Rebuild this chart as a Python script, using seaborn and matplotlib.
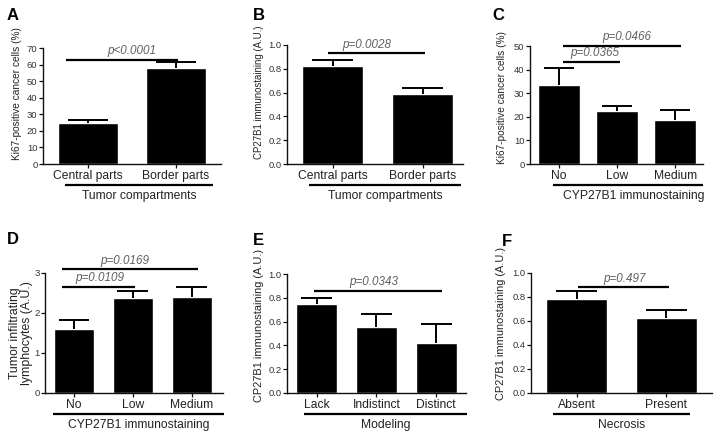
import numpy as np
import pandas as pd
import matplotlib
matplotlib.use("Agg")
import matplotlib.pyplot as plt
import matplotlib.transforms as mtrans
import seaborn as sns

# ---------------- data ----------------
a_cats = ["Central parts", "Border parts"]
a_vals = [24.5, 58.0]
a_err = [2.0, 3.4]

b_cats = ["Central parts", "Border parts"]
b_vals = [0.82, 0.59]
b_err = [0.05, 0.05]

c_cats = ["No", "Low", "Medium"]
c_vals = [33.4, 22.3, 18.6]
c_err = [7.1, 2.1, 4.2]

d_cats = ["No", "Low", "Medium"]
d_vals = [1.60, 2.37, 2.41]
d_err = [0.23, 0.19, 0.23]

e_cats = ["Lack", "Indistinct", "Distinct"]
e_vals = [0.745, 0.555, 0.42]
e_err = [0.052, 0.108, 0.16]

f_cats = ["Absent", "Present"]
f_vals = [0.78, 0.625]
f_err = [0.07, 0.063]

# significance annotations: (x_start, x_end, y, text, text_x)
a_sig = [(-0.25, 1.02, 62.8, "p<0.0001", 0.5)]
b_sig = [(-0.05, 1.03, 0.93, "p=0.0028", 0.38)]
c_sig = [(0.07, 2.10, 50.1, "p=0.0466", 1.16), (0.07, 1.05, 43.4, "p=0.0365", 0.62)]
d_sig = [(-0.20, 2.10, 3.09, "p=0.0169", 0.86), (-0.20, 1.03, 2.66, "p=0.0109", 0.44)]
e_sig = [(-0.05, 2.10, 0.86, "p=0.0343", 0.96)]
f_sig = [(0.01, 1.03, 0.88, "p=0.497", 0.53)]

group_labels = ["Tumor compartments", "Tumor compartments", "CYP27B1 immunostaining",
                "CYP27B1 immunostaining", "Modeling", "Necrosis"]
y_labels = ["Ki67-positive cancer cells (%)", "CP27B1 immunostaining (A.U.)",
            "Ki67-positive cancer cells (%)", "Tumor infiltrating\nlymphocytes (A.U.)",
            "CP27B1 immunostaining (A.U.)", "CP27B1 immunostaining (A.U.)"]
panel_letters = ["A", "B", "C", "D", "E", "F"]
y_max = [70, 1.0, 50, 3, 1.0, 1.0]
y_step = [10, 0.2, 10, 1, 0.2, 0.2]
y_fmt = ["{:.0f}", "{:.1f}", "{:.0f}", "{:.0f}", "{:.1f}", "{:.1f}"]

# ---------------- layout (pixels) ----------------
W, H = 721, 437
sns.set_style("ticks")
plt.rcParams["font.family"] = ["Liberation Sans", "DejaVu Sans"]

fig = plt.figure(figsize=(W / 100, H / 100), dpi=100)

# left, right, top, bottom in px
boxes = [(43, 221, 48, 164), (287, 463, 45, 164), (530, 703, 46, 164),
         (45, 223, 273, 393), (287, 466, 274, 393), (531, 712, 273, 393)]
xlims = [(-0.511, 1.511), (-0.506, 1.45), (-0.5, 2.48),
         (-0.49, 2.53), (-0.5, 2.5), (-0.51, 1.51)]
widths = [0.69, 0.68, 0.72, 0.67, 0.69, 0.68]
cap_hw = [0.23, 0.23, 0.26, 0.26, 0.26, 0.23]
underline = [(-0.26, 1.42), (-0.26, 1.43), (-0.10, 2.48),
             (-0.36, 2.54), (-0.22, 2.52), (-0.26, 1.27)]
group_x = [0.58, 0.585, 1.29, 1.1, 1.15, 0.5]
ylab_dx = [26, 28.5, 28, 24, 28, 30]
ylab_dy = [12, 12, 7.5, 0, 8.5, 9.5]
ylab_fs = [7.3, 6.9, 7.3, 8.8, 7.9, 7.9]
letter_pos = [(7, 8), (253, 8), (492, 8), (7, 232), (253, 233), (502, 234)]

panels = [(a_cats, a_vals, a_err, a_sig), (b_cats, b_vals, b_err, b_sig),
          (c_cats, c_vals, c_err, c_sig), (d_cats, d_vals, d_err, d_sig),
          (e_cats, e_vals, e_err, e_sig), (f_cats, f_vals, f_err, f_sig)]

txt_col = "#222222"
p_col = "#606060"

for i, (cats, vals, errs, sigs) in enumerate(panels):
    l, r, t, b = boxes[i]
    ax = fig.add_axes([l / W, (H - b) / H, (r - l) / W, (b - t) / H])
    df = pd.DataFrame({"cat": cats, "val": vals})
    sns.barplot(data=df, x="cat", y="val", color="black", saturation=1,
                width=widths[i], errorbar=None, ax=ax, order=cats)
    xs = np.arange(len(cats))
    tops = np.array(vals) + np.array(errs)
    ax.vlines(xs, vals, tops, colors="black", lw=1.4, zorder=3)
    ax.hlines(tops, xs - cap_hw[i], xs + cap_hw[i], colors="black", lw=1.4, zorder=3)
    ax.set_xlim(*xlims[i])
    ax.set_ylim(0, y_max[i])
    ticks = np.arange(0, y_max[i] + 1e-9, y_step[i])
    ax.set_yticks(ticks)
    ax.set_yticklabels([y_fmt[i].format(v) for v in ticks])
    sns.despine(ax=ax)
    for s in ["left", "bottom"]:
        ax.spines[s].set_linewidth(1.0)
        ax.spines[s].set_color("#111111")
    ax.tick_params(axis="y", length=3, width=0.9, pad=1, labelsize=6.8,
                   labelcolor="#333333", color="#111111")
    ax.tick_params(axis="x", length=3, width=0.9, pad=1.2, labelsize=8.7,
                   labelcolor=txt_col, color="#111111")
    ax.set_xlabel("")
    ax.set_ylabel(y_labels[i], fontsize=ylab_fs[i], color=txt_col, va="center",
                  linespacing=0.95)
    aw = r - l
    ah = b - t
    ax.yaxis.set_label_coords(-ylab_dx[i] / aw, 0.5 + ylab_dy[i] / ah)

    # significance lines
    for (x0, x1, yv, txt, tx) in sigs:
        ax.plot([x0, x1], [yv, yv], color="black", lw=1.6, clip_on=False,
                solid_capstyle="butt", zorder=4)
        ax.annotate(txt, (tx, yv), xytext=(0, 1.8), textcoords="offset points",
                    ha="center", va="bottom", fontsize=8.4, style="italic",
                    color=p_col, annotation_clip=False)

    # group underline and label
    tr_line = ax.get_xaxis_transform() + mtrans.ScaledTranslation(0, -21 / 100, fig.dpi_scale_trans)
    ax.plot(list(underline[i]), [0, 0], color="black", lw=1.6, transform=tr_line,
            clip_on=False, solid_capstyle="butt")
    tr_lab = ax.get_xaxis_transform() + mtrans.ScaledTranslation(0, -32 / 100, fig.dpi_scale_trans)
    ax.text(group_x[i], 0, group_labels[i], transform=tr_lab, ha="center",
            va="center", fontsize=8.7, color=txt_col)

    lx, ly = letter_pos[i]
    fig.text(lx / W, 1 - ly / H, panel_letters[i], ha="left", va="top",
             fontsize=12, fontweight="bold", color="black")

fig.savefig("out.png", dpi=100)
